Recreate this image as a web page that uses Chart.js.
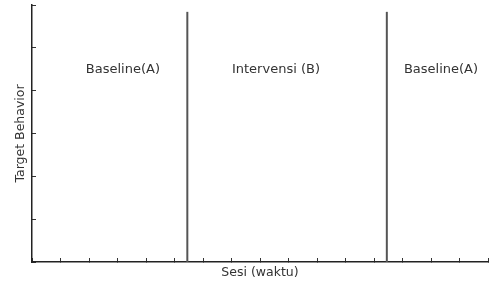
<!DOCTYPE html>
<html>
<head>
<meta charset="utf-8">
<script src="https://cdn.jsdelivr.net/npm/chart.js@4"></script>
<style>
  html, body { margin: 0; padding: 0; background: #fff; }
  #wrap { width: 489px; height: 289px; }
</style>
</head>
<body>
<div id="wrap"><canvas id="chart"></canvas></div>
<script>
// sessions on x, behaviour on y (empty template: no data points)
const sessionMax = 16;
const behaviorMax = 6;
// phase change lines (in session units)
const phaseLines = [5.45, 12.45];
const phaseTop = 5.84;
// phase labels and where they sit (session, behaviour)
const phaseLabels = ['Baseline(A)', 'Intervensi (B)', 'Baseline(A)'];
const phaseLabelX = [3.19, 8.56, 14.35];
const phaseLabelY = 4.48;

const phaseSets = phaseLines.map(function (x) {
  return {
    data: [{ x: x, y: 0 }, { x: x, y: phaseTop }],
    borderColor: '#555',
    borderWidth: 2,
    pointRadius: 0,
    fill: false
  };
});

const labelPlugin = {
  id: 'phaseLabels',
  afterDatasetsDraw(chart) {
    const ctx = chart.ctx;
    const xs = chart.scales.x, ys = chart.scales.y;
    ctx.save();
    ctx.font = '13px "DejaVu Sans"';
    ctx.fillStyle = '#333';
    ctx.textAlign = 'center';
    ctx.textBaseline = 'middle';
    phaseLabels.forEach(function (t, i) {
      ctx.fillText(t, xs.getPixelForValue(phaseLabelX[i]), ys.getPixelForValue(phaseLabelY));
    });
    ctx.restore();
  }
};

const ctx = document.getElementById('chart').getContext('2d');
let my_chart = new Chart(ctx, {
  type: 'line',
  data: { datasets: phaseSets },
  options: {
    responsive: true,
    maintainAspectRatio: false,
    animation: false,
    layout: { padding: { top: 5, right: 1, left: 0, bottom: 0 } },
    plugins: { legend: { display: false }, tooltip: { enabled: false } },
    scales: {
      x: {
        type: 'linear',
        min: 0,
        max: sessionMax,
        afterFit(scale) { scale.height = 27; },
        ticks: { display: false, stepSize: 1 },
        grid: { drawOnChartArea: false, tickLength: -4, color: '#333', lineWidth: 1 },
        border: { color: '#222', width: 1.5 },
        title: {
          display: true,
          text: 'Sesi (waktu)',
          color: '#333',
          font: { family: 'DejaVu Sans', size: 12.5 },
          padding: 9
        }
      },
      y: {
        min: 0,
        max: behaviorMax,
        afterFit(scale) { scale.width = 32; },
        ticks: { display: false, stepSize: 1 },
        grid: { drawOnChartArea: false, tickLength: -4, color: '#333', lineWidth: 1 },
        border: { color: '#222', width: 1.5 },
        title: {
          display: true,
          text: 'Target Behavior',
          color: '#333',
          font: { family: 'DejaVu Sans', size: 12.5 },
          padding: 13
        }
      }
    }
  },
  plugins: [labelPlugin]
});
</script>
</body>
</html>
